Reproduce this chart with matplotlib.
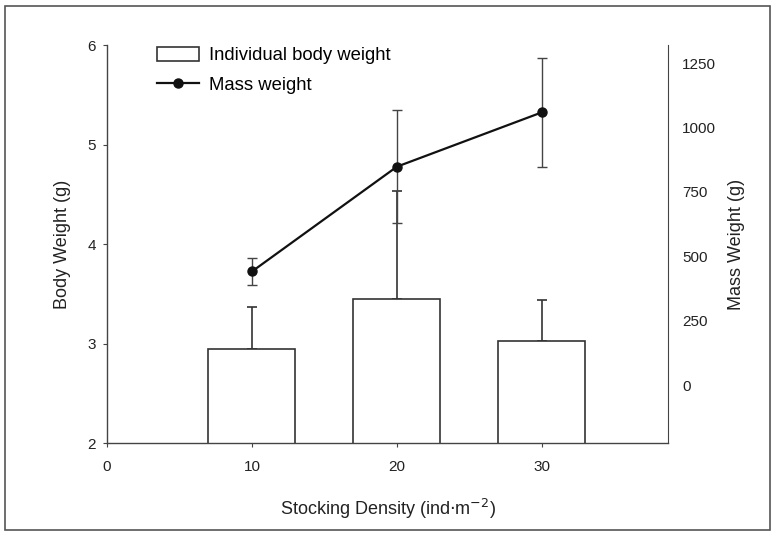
import matplotlib
matplotlib.use('Agg')
import matplotlib.pyplot as plt
from matplotlib.patches import Rectangle
from matplotlib.lines import Line2D

plt.rcParams['font.family'] = ['Liberation Sans', 'DejaVu Sans']

# stocking density (ind/m2)
density = [10, 20, 30]
# individual body weight (g) and upper error
body_weight = [2.95, 3.45, 3.03]
body_err = [0.42, 1.08, 0.41]
# mass weight (g) and error
mass_weight = [441, 848, 1059]
mass_err = [53, 219, 211]

fig = plt.figure(figsize=(7.75, 5.37), dpi=100)
ax = fig.add_axes([0.138, 0.175, 0.724, 0.741])

ax.bar(density, body_weight, width=6, bottom=0, color='white',
       edgecolor='#333333', linewidth=1.2, zorder=2)
ax.errorbar(density, body_weight, yerr=[[0, 0, 0], body_err], fmt='none',
            ecolor='#333333', elinewidth=1.2, capsize=3.6, capthick=1.2, zorder=1)
ax.set_xlim(0, 38.7)
ax.set_ylim(2, 6)
ax.set_xticks([0, 10, 20, 30])
ax.set_yticks([2, 3, 4, 5, 6])
ax.spines['top'].set_visible(False)
ax.spines['right'].set_visible(False)
for s in ['left', 'bottom']:
    ax.spines[s].set_color('#444444')
    ax.spines[s].set_linewidth(1.0)
ax.tick_params(axis='both', direction='out', length=3, width=0.8,
               colors='#444444', labelcolor='#222222', labelsize=11)
ax.tick_params(axis='x', pad=9)
ax.tick_params(axis='y', pad=5)
ax.set_xlabel('Stocking Density (ind$\\cdot$m$^{-2}$)', fontsize=13,
              color='#222222', labelpad=17)
ax.set_ylabel('Body Weight (g)', fontsize=13, color='#222222', labelpad=12)

ax2 = ax.twinx()
ax2.errorbar(density, mass_weight, yerr=mass_err, fmt='-o', color='#111111',
             linewidth=1.6, markersize=6.5, elinewidth=1.0, ecolor='#444444',
             capsize=3.6, capthick=1.0)
ax2.set_ylim(-225, 1320)
ax2.set_yticks([0, 250, 500, 750, 1000, 1250])
ax2.spines['top'].set_visible(False)
ax2.spines['left'].set_visible(False)
ax2.spines['bottom'].set_visible(False)
ax2.spines['right'].set_color('#444444')
ax2.tick_params(axis='y', length=0, pad=10, labelsize=11, labelcolor='#222222')
ax2.set_ylabel('Mass Weight (g)', fontsize=13, color='#222222', labelpad=9)

handles = [Rectangle((0, 0), 1, 1, facecolor='white', edgecolor='#333333', linewidth=1.2),
           Line2D([], [], color='#111111', marker='o', markersize=6.5, linewidth=1.6)]
fig.legend(handles, ['Individual body weight', 'Mass weight'],
           loc='upper left', bbox_to_anchor=(0.181, 0.944), frameon=False,
           fontsize=13.3, handlelength=2.3, handleheight=0.8, handletextpad=0.5,
           labelspacing=0.68)

# scanned page frame
fig.patches.append(Rectangle((0.007, 0.013), 0.987, 0.975, transform=fig.transFigure,
                             fill=False, edgecolor='#555555', linewidth=1.2))

fig.savefig('out.png', dpi=100)
